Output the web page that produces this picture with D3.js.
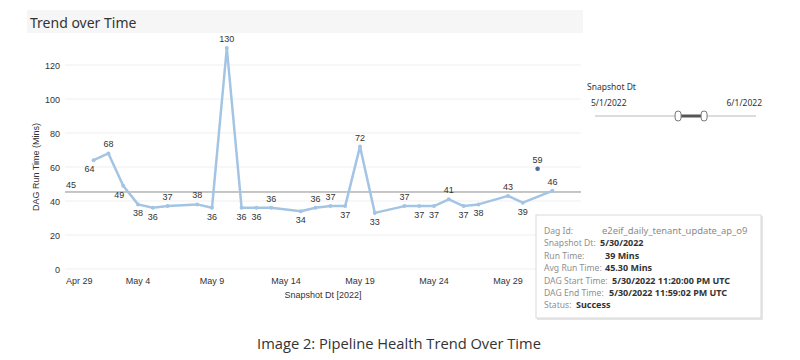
<!DOCTYPE html>
<html><head><meta charset="utf-8">
<script src="https://cdn.jsdelivr.net/npm/d3@7"></script>
<style>body{margin:0;background:#fff}</style>
</head><body><svg id="c" width="800" height="360"></svg>
<script>
// ---- data ----
const dates = ["2022-05-01","2022-05-02","2022-05-03","2022-05-04","2022-05-05","2022-05-06","2022-05-08","2022-05-09","2022-05-10","2022-05-11","2022-05-12","2022-05-13","2022-05-15","2022-05-16","2022-05-17","2022-05-18","2022-05-19","2022-05-20","2022-05-22","2022-05-23","2022-05-24","2022-05-25","2022-05-26","2022-05-27","2022-05-29","2022-05-30","2022-06-01"];
const runTimes = [64,68,49,38,36,37,38,36,130,36,36,36,34,36,37,37,72,33,37,37,37,41,37,38,43,39,46];
const extraDates = ["2022-05-31"];
const extraValues = [59];
const avgRunTime = 45.30;
const avgLabel = "45";
const xTickDates = ["2022-04-29","2022-05-04","2022-05-09","2022-05-14","2022-05-19","2022-05-24","2022-05-29"];
const xTickLabels = ["Apr 29","May 4","May 9","May 14","May 19","May 24","May 29"];
const yTicks = [0,20,40,60,80,100,120];
const xDomain = ["2022-04-29","2022-06-03"];
const sliderRange = ["2022-05-01","2022-06-01"];
const sliderLabels = ["5/1/2022","6/1/2022"];
const sliderHandles = ["2022-05-17","2022-05-22"];
const tooltipLabels = ["Dag Id:","Snapshot Dt:","Run Time:","Avg Run Time:","DAG Start Time:","DAG End Time:","Status:"];
const tooltipValues = ["e2eif_daily_tenant_update_ap_o9","5/30/2022","39 Mins","45.30 Mins","5/30/2022 11:20:00 PM UTC","5/30/2022 11:59:02 PM UTC","Success"];

// ---- drawing ----
const svg = d3.select("#c");
const parse = d3.utcParse("%Y-%m-%d");
const axisFont = "'Liberation Sans', Arial, sans-serif";
const uiFont = "'Noto Sans', 'Open Sans', sans-serif";

const x = d3.scaleUtc().domain(xDomain.map(parse)).range([64, 582]);
const y = d3.scaleLinear().domain([0, 120]).range([269, 65]);
const plotL = 65, plotR = 581;

// title band
svg.append("rect").attr("x", 27).attr("y", 10).attr("width", 556).attr("height", 23).attr("fill", "#f6f6f6");
svg.append("text").attr("x", 30).attr("y", 28).attr("font-family", uiFont).attr("font-size", 14)
  .attr("fill", "#333").text("Trend over Time");

// gridlines and y labels
const g = svg.append("g");
yTicks.forEach(t => {
  g.append("line").attr("x1", plotL).attr("x2", plotR).attr("y1", y(t)).attr("y2", y(t))
    .attr("stroke", "#efefef").attr("stroke-width", 1);
  g.append("text").attr("x", 60).attr("y", y(t) + 3.5).attr("text-anchor", "end")
    .attr("font-family", axisFont).attr("font-size", 9).attr("fill", "#333").text(t);
});
svg.append("text").attr("transform", "translate(39,167) rotate(-90)").attr("text-anchor", "middle")
  .attr("font-family", axisFont).attr("font-size", 9).attr("fill", "#333").text("DAG Run Time (Mins)");

// x labels
xTickDates.forEach((d, i) => {
  const px = x(parse(d));
  const first = px < plotL + 10;
  svg.append("text").attr("x", first ? plotL + 1 : px).attr("y", 284)
    .attr("text-anchor", first ? "start" : "middle")
    .attr("font-family", axisFont).attr("font-size", 9).attr("fill", "#333").text(xTickLabels[i]);
});
svg.append("text").attr("x", 323).attr("y", 298).attr("text-anchor", "middle")
  .attr("font-family", axisFont).attr("font-size", 9).attr("fill", "#333").text("Snapshot Dt [2022]");

// average reference line
svg.append("line").attr("x1", plotL).attr("x2", plotR).attr("y1", y(avgRunTime)).attr("y2", y(avgRunTime))
  .attr("stroke", "#8c8c8c").attr("stroke-width", 1);
svg.append("text").attr("x", 66).attr("y", y(avgRunTime) - 4).attr("font-family", axisFont)
  .attr("font-size", 9).attr("fill", "#333").text(avgLabel);

// line
const pts = dates.map((d, i) => ({ t: parse(d), v: runTimes[i] }));
const lineColor = "#a3c5e3";
svg.append("path").datum(pts).attr("fill", "none").attr("stroke", lineColor).attr("stroke-width", 2.5)
  .attr("stroke-linejoin", "round")
  .attr("d", d3.line().x(p => x(p.t)).y(p => y(p.v)));
svg.selectAll(".pt").data(pts).join("circle").attr("cx", p => x(p.t)).attr("cy", p => y(p.v))
  .attr("r", 2).attr("fill", lineColor);

// labels: above if point lies above interpolation of neighbours
pts.forEach((p, i) => {
  let above;
  const prev = pts[i - 1], next = pts[i + 1];
  if (!prev) above = p.v > next.v;
  else if (!next) above = p.v > prev.v;
  else {
    const f = (p.t - prev.t) / (next.t - prev.t);
    above = p.v > prev.v + f * (next.v - prev.v);
  }
  // steep descending/ascending neighbours push the label sideways a little
  let dx = 0;
  if (!above && prev && prev.v - p.v > 8 && (!next || Math.abs(next.v - p.v) > 8) && next && next.v < p.v) dx = -4;
  if (!prev) dx = -4;
  svg.append("text").attr("x", x(p.t) + dx).attr("y", above ? y(p.v) - 6 : y(p.v) + 12)
    .attr("text-anchor", "middle").attr("font-family", axisFont).attr("font-size", 9)
    .attr("fill", "#333").text(p.v);
});

// extra point
extraDates.forEach((d, i) => {
  const px = x(parse(d)), py = y(extraValues[i]);
  svg.append("circle").attr("cx", px).attr("cy", py).attr("r", 2.3).attr("fill", "#4a6b9a");
  svg.append("text").attr("x", px).attr("y", py - 6).attr("text-anchor", "middle")
    .attr("font-family", axisFont).attr("font-size", 9).attr("fill", "#333").text(extraValues[i]);
});

// slider
const sx = d3.scaleUtc().domain(sliderRange.map(parse)).range([595, 756]);
svg.append("text").attr("x", 587).attr("y", 90).attr("font-family", uiFont).attr("font-size", 8.5)
  .attr("fill", "#333").text("Snapshot Dt");
svg.append("text").attr("x", 591).attr("y", 106).attr("font-family", uiFont).attr("font-size", 8.5)
  .attr("fill", "#333").text(sliderLabels[0]);
svg.append("text").attr("x", 762).attr("y", 106).attr("text-anchor", "end").attr("font-family", uiFont)
  .attr("font-size", 8.5).attr("fill", "#333").text(sliderLabels[1]);
svg.append("line").attr("x1", sx.range()[0]).attr("x2", sx.range()[1]).attr("y1", 116).attr("y2", 116)
  .attr("stroke", "#dcdcdc").attr("stroke-width", 2);
const h0 = sx(parse(sliderHandles[0])), h1 = sx(parse(sliderHandles[1]));
svg.append("line").attr("x1", h0).attr("x2", h1).attr("y1", 116).attr("y2", 116)
  .attr("stroke", "#555").attr("stroke-width", 3);
[h0, h1].forEach(h => {
  svg.append("rect").attr("x", h - 3).attr("y", 111).attr("width", 6).attr("height", 10).attr("rx", 3)
    .attr("fill", "#fff").attr("stroke", "#777").attr("stroke-width", 1);
});

// tooltip
const tt = svg.append("g");
tt.append("rect").attr("x", 537).attr("y", 216).attr("width", 226).attr("height", 104).attr("fill", "#e6e6e6");
tt.append("rect").attr("x", 536).attr("y", 215).attr("width", 225).attr("height", 103)
  .attr("fill", "#fff").attr("stroke", "#d9d9d9");
const valX = [602, 600, 605, 605, 612, 609, 576];
tooltipLabels.forEach((lab, i) => {
  const ty = 234 + i * 12.4;
  tt.append("text").attr("x", 544).attr("y", ty).attr("font-family", uiFont).attr("font-size", 8.6)
    .attr("fill", "#8f8f8f").text(lab);
  tt.append("text").attr("x", valX[i]).attr("y", ty).attr("font-family", uiFont)
    .attr("font-size", i === 0 ? 9.4 : 9)
    .attr("fill", i === 0 ? "#8a8a8a" : "#333").attr("font-weight", i === 0 ? "normal" : "bold")
    .text(tooltipValues[i]);
});

// caption
svg.append("text").attr("x", 399).attr("y", 349).attr("text-anchor", "middle").attr("font-family", "'Open Sans', sans-serif")
  .attr("font-size", 14.7).attr("fill", "#333").text("Image 2: Pipeline Health Trend Over Time");
</script></body></html>
